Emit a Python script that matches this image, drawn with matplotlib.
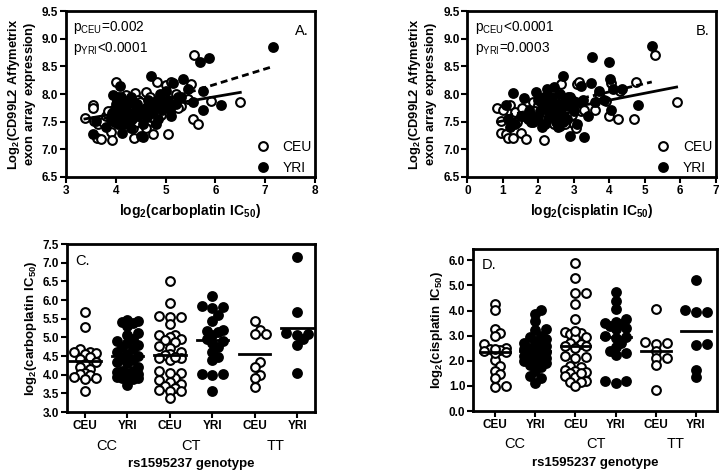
#!/usr/bin/env python3
"""CD99L2 expression vs platinum IC50, and IC50 by rs1595237 genotype (4 panels)."""

import matplotlib
matplotlib.use("Agg")
import matplotlib.pyplot as plt
from matplotlib.lines import Line2D
import numpy as np

plt.rcParams["font.family"] = ["Liberation Sans", "DejaVu Sans"]
plt.rcParams["font.weight"] = "bold"
plt.rcParams["axes.labelweight"] = "bold"
plt.rcParams["mathtext.fontset"] = "custom"
plt.rcParams["mathtext.rm"] = "Liberation Sans"
plt.rcParams["mathtext.bf"] = "Liberation Sans:bold"
plt.rcParams["mathtext.default"] = "regular"

# ---- panel A: carboplatin vs expression ----
a_ceu_x = [3.38, 3.55, 3.55, 3.57, 3.62, 3.65, 3.70, 3.75, 3.80, 3.90, 3.92, 3.95, 4.00, 4.02,
           4.05, 4.10, 4.15, 4.20, 4.25, 4.30, 4.35, 4.37, 4.38, 4.42, 4.45, 4.50, 4.55, 4.60,
           4.62, 4.65, 4.70, 4.75, 4.80, 4.82, 4.85, 4.90, 4.95, 5.00, 5.02, 5.05, 5.10, 5.10,
           5.20, 5.30, 5.45, 5.50, 5.55, 5.58, 5.65, 5.92, 6.50, 4.05, 4.25, 4.48, 3.85, 4.68,
           3.95, 4.08, 4.18, 4.28, 4.40, 4.55, 4.72, 4.90, 5.15, 5.25, 4.60, 3.98]
a_ceu_y = [7.56, 7.80, 7.75, 7.52, 7.20, 7.45, 7.18, 7.50, 7.60, 7.32, 7.17, 7.72, 8.22, 7.85,
           7.55, 7.65, 7.45, 7.98, 7.60, 7.80, 7.38, 7.20, 8.02, 7.50, 7.90, 7.65, 7.82, 8.04,
           7.48, 7.68, 7.58, 7.28, 7.88, 8.22, 7.62, 7.78, 7.95, 8.17, 7.82, 7.28, 7.72, 8.22,
           8.00, 7.78, 7.92, 8.18, 7.55, 8.70, 7.45, 7.88, 7.85, 7.95, 7.75, 7.85, 7.70, 7.95,
           7.62, 7.72, 7.82, 7.52, 7.68, 7.55, 7.75, 7.62, 7.85, 7.75, 7.38, 7.50]
a_yri_x = [3.55, 3.60, 3.80, 3.90, 3.95, 3.98, 4.00, 4.02, 4.05, 4.08, 4.10, 4.12, 4.15, 4.18,
           4.20, 4.25, 4.30, 4.35, 4.40, 4.45, 4.50, 4.55, 4.60, 4.65, 4.70, 4.72, 4.78, 4.80,
           4.85, 4.88, 4.92, 4.95, 5.00, 5.05, 5.10, 5.15, 5.20, 5.25, 5.35, 5.45, 5.55, 5.70,
           5.75, 5.75, 5.88, 6.12, 7.15, 4.30, 3.98, 4.55, 4.75,
           3.92, 4.02, 4.12, 4.22, 4.32, 4.42, 4.52, 4.62, 4.82, 4.98, 5.08, 5.30, 4.15, 4.68]
a_yri_y = [7.28, 7.52, 7.40, 7.55, 7.98, 7.70, 7.82, 7.62, 7.45, 8.15, 7.95, 7.30, 7.75, 7.88,
           7.55, 7.65, 7.38, 7.85, 7.72, 7.60, 7.25, 7.22, 7.75, 7.90, 8.32, 7.65, 7.80, 7.45,
           7.55, 8.00, 7.72, 7.85, 8.05, 7.90, 7.60, 8.20, 7.82, 7.95, 8.28, 8.10, 7.85, 8.58,
           8.05, 7.72, 8.66, 7.80, 8.86, 7.95, 7.50, 7.45, 7.78,
           7.65, 7.90, 7.60, 7.80, 7.55, 7.82, 7.70, 7.58, 7.90, 7.80, 7.75, 7.95, 7.48, 7.72]
# regression lines: (slope, intercept)
a_ceu_fit = (0.154, 7.03)
a_yri_fit = (0.278, 6.51)

# ---- panel B: cisplatin vs expression ----
b_ceu_x = [0.85, 0.95, 0.95, 1.00, 1.10, 1.15, 1.20, 1.30, 1.35, 1.40, 1.50, 1.60, 1.65, 1.70,
           1.80, 1.85, 1.95, 2.00, 2.05, 2.10, 2.15, 2.20, 2.25, 2.30, 2.35, 2.40, 2.45, 2.50,
           2.60, 2.65, 2.70, 2.80, 2.85, 2.90, 3.00, 3.05, 3.10, 3.15, 3.20, 3.30, 3.60, 3.70,
           3.90, 4.00, 4.05, 4.25, 4.30, 4.70, 4.75, 5.30, 5.90, 1.55, 2.55,
           1.90, 2.05, 2.20, 2.35, 2.50, 2.60, 2.75, 2.45, 1.75, 2.95]
b_ceu_y = [7.75, 7.52, 7.30, 7.72, 7.28, 7.20, 7.80, 7.20, 7.68, 7.50, 7.30, 7.60, 7.18, 7.72,
           7.50, 7.85, 7.62, 7.80, 7.92, 7.50, 7.17, 7.65, 7.88, 7.55, 8.05, 7.70, 7.45, 7.80,
           7.42, 8.18, 7.60, 7.75, 7.50, 7.95, 7.45, 7.38, 8.18, 8.22, 7.70, 7.72, 7.72, 8.00,
           7.88, 7.60, 8.20, 7.55, 8.05, 7.55, 8.22, 8.70, 7.85, 7.75, 7.95,
           7.70, 7.55, 7.78, 7.60, 7.68, 7.85, 7.45, 7.90, 7.58, 7.62]
b_yri_x = [1.10, 1.15, 1.20, 1.30, 1.35, 1.50, 1.60, 1.70, 1.75, 1.85, 1.95, 2.00, 2.05, 2.10,
           2.20, 2.25, 2.30, 2.35, 2.40, 2.45, 2.50, 2.55, 2.60, 2.65, 2.70, 2.75, 2.80, 2.85,
           2.90, 2.95, 3.00, 3.10, 3.20, 3.30, 3.40, 3.50, 3.52, 3.60, 3.70, 3.85, 4.00, 4.02,
           4.05, 4.10, 4.35, 4.80, 5.20, 3.25, 2.15,
           1.80, 2.00, 2.10, 2.30, 2.40, 2.50, 2.60, 2.70, 2.85, 3.05, 2.55, 2.20]
b_yri_y = [7.80, 7.55, 7.40, 8.02, 7.45, 7.60, 7.93, 7.55, 7.70, 7.50, 8.03, 7.90, 7.70, 7.40,
           7.85, 8.10, 7.60, 7.95, 7.75, 8.12, 7.50, 7.82, 8.00, 7.65, 8.32, 7.88, 7.55, 7.78,
           7.25, 7.90, 7.70, 7.45, 8.15, 7.22, 7.60, 8.20, 8.67, 7.85, 8.05, 7.90, 8.58, 8.27,
           7.72, 8.10, 8.10, 7.80, 8.87, 7.90, 7.95,
           7.62, 7.55, 7.82, 7.72, 7.90, 7.65, 7.75, 7.50, 7.95, 7.85, 7.40, 7.45]
b_ceu_fit = (0.125, 7.39)
b_yri_fit = (0.150, 7.44)

# ---- panels C and D: IC50 by genotype ----
col_labels = ["CEU", "YRI", "CEU", "YRI", "CEU", "YRI"]
genotypes = ["CC", "CT", "TT"]

c_groups = [
    [5.68, 5.27, 4.68, 4.62, 4.58, 4.55, 4.47, 4.42, 4.35, 4.28, 4.20, 4.15, 4.05, 4.02,
     3.98, 3.95, 3.92, 3.88, 3.55, 4.60],
    [5.47, 5.45, 5.42, 5.38, 5.30, 5.12, 5.05, 4.95, 4.90, 4.85, 4.80, 4.75, 4.68, 4.60,
     4.55, 4.50, 4.45, 4.40, 4.35, 4.30, 4.20, 4.10, 4.08, 4.05, 4.02, 4.00, 3.98, 3.95,
     3.92, 3.90, 3.88, 3.95, 4.10, 3.73],
    [6.50, 5.92, 5.58, 5.55, 5.55, 5.35, 5.05, 5.05, 5.02, 4.95, 4.92, 4.88, 4.78, 4.72,
     4.62, 4.55, 4.52, 4.45, 4.40, 4.48, 4.45, 4.10, 4.05, 3.92, 3.85, 3.80, 3.75, 3.70,
     3.65, 3.60, 3.55, 3.55, 3.38, 4.05],
    [6.12, 5.85, 5.80, 5.78, 5.60, 5.45, 5.20, 5.17, 5.05, 4.95, 4.90, 4.85, 4.75, 4.62,
     4.48, 4.40, 4.02, 4.02, 3.98, 3.55, 5.15],
    [5.45, 5.20, 5.10, 5.08, 4.35, 4.20, 4.00, 3.90, 3.68],
    [7.15, 5.68, 5.12, 5.10, 5.05, 4.95, 4.80, 4.05],
]
d_groups = [
    [4.28, 4.02, 3.28, 3.10, 2.98, 2.65, 2.50, 2.45, 2.42, 2.38, 2.35, 2.05, 1.80, 1.60,
     1.48, 1.33, 1.00, 0.95, 2.30, 2.45],
    [4.02, 3.88, 3.60, 3.25, 3.22, 3.00, 2.95, 2.85, 2.80, 2.70, 2.65, 2.60, 2.55, 2.50,
     2.45, 2.40, 2.35, 2.30, 2.25, 2.20, 2.15, 2.10, 2.05, 2.00, 1.95, 1.90, 1.85, 1.75,
     1.60, 1.40, 1.30, 1.12, 2.00, 2.10],
    [5.88, 5.30, 4.70, 4.70, 4.25, 3.65, 3.10, 3.15, 3.05, 2.95, 2.90, 2.70, 2.65, 2.60,
     2.50, 2.20, 2.15, 2.12, 1.80, 1.75, 1.65, 1.60, 1.55, 1.50, 1.40, 1.35, 1.20, 1.15,
     1.15, 0.98, 2.60, 1.50, 3.18],
    [4.75, 4.38, 4.05, 3.65, 3.55, 3.50, 3.45, 3.40, 3.30, 3.00, 2.95, 2.90, 2.70, 2.55,
     2.40, 2.30, 2.25, 1.20, 1.18, 1.12, 3.25],
    [4.05, 2.75, 2.70, 2.65, 2.40, 2.10, 2.10, 1.85, 0.85],
    [5.22, 4.03, 3.95, 3.95, 2.65, 2.62, 1.62, 1.35],
]

MS = 6.3
MEW = 1.5


def style_box(ax):
    for sp in ax.spines.values():
        sp.set_linewidth(2.0)
    ax.tick_params(direction="out", width=1.5, length=4, labelsize=8.5, pad=1.5)
    for lbl in ax.get_xticklabels() + ax.get_yticklabels():
        lbl.set_fontweight("bold")


def scatter_panel(ax, ceu, yri, fits, xlabel, letter, ptext, xlim, xticks):
    ax.set_xlim(*xlim)
    ax.set_ylim(6.5, 9.5)
    ax.plot(ceu[0], ceu[1], "o", ms=MS, mew=MEW, mec="black", mfc="white", ls="none")
    ax.plot(yri[0], yri[1], "o", ms=MS, mew=MEW, mec="black", mfc="black", ls="none")
    for (xs, _), (slope, icpt), ls in zip((ceu, yri), fits, ("-", (0, (2.5, 1.5)))):
        xx = np.array([min(xs), max(xs)])
        ax.plot(xx, slope * xx + icpt, color="black", lw=2.0, ls=ls)
    ax.set_xticks(xticks)
    ax.set_yticks(np.arange(6.5, 9.51, 0.5))
    ax.set_yticklabels([f"{v:.1f}" for v in np.arange(6.5, 9.51, 0.5)])
    ax.set_xlabel(xlabel, fontsize=10, labelpad=4)
    ax.set_ylabel(r"$\mathbf{Log_2(CD99L2\ Affymetrix}$" "\n"
                  r"$\mathbf{exon\ array\ expression)}$", fontsize=9.3,
                  labelpad=3, linespacing=1.0)
    ax.text(0.03, 0.90, ptext[0], transform=ax.transAxes, fontsize=9.8,
            fontweight="normal", va="center")
    ax.text(0.03, 0.775, ptext[1], transform=ax.transAxes, fontsize=9.8,
            fontweight="normal", va="center")
    ax.text(0.975, 0.88, letter, transform=ax.transAxes, fontsize=10.5,
            fontweight="normal", ha="right", va="center")
    handles = [
        Line2D([0], [0], marker="o", ls="none", ms=MS, mew=MEW, mec="black", mfc="white"),
        Line2D([0], [0], marker="o", ls="none", ms=MS, mew=MEW, mec="black", mfc="black"),
    ]
    ax.legend(handles, ["CEU", "YRI"], loc="lower right", frameon=False,
              prop={"size": 10, "weight": "normal"}, handletextpad=0.4,
              labelspacing=0.55, borderaxespad=0.2, bbox_to_anchor=(1.02, -0.04))
    style_box(ax)


def swarm(ax, vals, diam=6.0, max_px=15.0):
    """Compact beeswarm: returns x offsets (data units), markers may overlap a little."""
    vals = np.asarray(vals, dtype=float)
    p0 = ax.transData.transform((0, 0))
    p1 = ax.transData.transform((1, 1))
    sx, sy = p1[0] - p0[0], p1[1] - p0[1]
    ypx = vals * sy
    step = diam * 0.9
    cands = [0.0]
    k = 1
    while k * step <= max_px:
        cands += [k * step, -k * step]
        k += 1
    placed = []
    offs = np.zeros(len(vals))
    for i in np.argsort(vals):
        best, best_d = cands[0], -1.0
        for dx in cands:
            d = min((np.hypot(dx - px, ypx[i] - py) for px, py in placed), default=1e9)
            if d >= diam:
                best = dx
                break
            if d > best_d:
                best, best_d = dx, d
        placed.append((best, ypx[i]))
        offs[i] = best / sx
    return offs


def dot_panel(ax, groups, ylabel, letter, ylim, yticks, xlim):
    ax.set_xlim(*xlim)
    ax.set_ylim(*ylim)
    for i, vals in enumerate(groups):
        xc = i + 1
        offs = swarm(ax, vals)
        fc = "white" if col_labels[i] == "CEU" else "black"
        ax.plot(xc + offs, vals, "o", ms=MS, mew=MEW, mec="black", mfc=fc, ls="none")
        m = np.mean(vals)
        ax.plot([xc - 0.37, xc + 0.37], [m, m], color="black", lw=2.0)
    ax.set_xticks(range(1, len(groups) + 1))
    ax.set_xticklabels(col_labels)
    ax.set_yticks(yticks)
    ax.set_yticklabels([f"{v:.1f}" for v in yticks])
    for j, g in enumerate(genotypes):
        ax.text(2 * j + 1.5, -0.205, g, transform=ax.get_xaxis_transform(), fontsize=10.5,
                fontweight="normal", ha="center", va="center")
    ax.set_xlabel("rs1595237 genotype", fontsize=9.5, labelpad=19)
    ax.set_ylabel(ylabel, fontsize=9.5, labelpad=3)
    ax.text(0.035, 0.9, letter, transform=ax.transAxes, fontsize=10.5,
            fontweight="normal", va="center")
    style_box(ax)


fig = plt.figure(figsize=(7.26, 4.75), dpi=100)
axA = fig.add_axes([0.0909, 0.6274, 0.343, 0.349])
axB = fig.add_axes([0.6437, 0.6274, 0.342, 0.349])
axC = fig.add_axes([0.0923, 0.1326, 0.3416, 0.3537])
axD = fig.add_axes([0.6515, 0.1347, 0.336, 0.341])

scatter_panel(axA, (a_ceu_x, a_ceu_y), (a_yri_x, a_yri_y), (a_ceu_fit, a_yri_fit),
              r"$\mathbf{log_2(carboplatin\ IC_{50})}$", "A.",
              ("p$_{CEU}$=0.002", "p$_{YRI}$<0.0001"), (3, 8), range(3, 9))
scatter_panel(axB, (b_ceu_x, b_ceu_y), (b_yri_x, b_yri_y), (b_ceu_fit, b_yri_fit),
              r"$\mathbf{log_2(cisplatin\ IC_{50})}$", "B.",
              ("p$_{CEU}$<0.0001", "p$_{YRI}$=0.0003"), (0, 7), range(0, 8))
dot_panel(axC, c_groups, r"$\mathbf{log_2(carboplatin\ IC_{50})}$", "C.", (3.0, 7.5),
          np.arange(3.0, 7.51, 0.5), (0.575, 6.42))
dot_panel(axD, d_groups, r"$\mathbf{log_2(cisplatin\ IC_{50})}$", "D.", (0.0, 6.45),
          np.arange(0.0, 6.01, 1.0), (0.45, 6.52))

fig.savefig("out.png", dpi=100)
